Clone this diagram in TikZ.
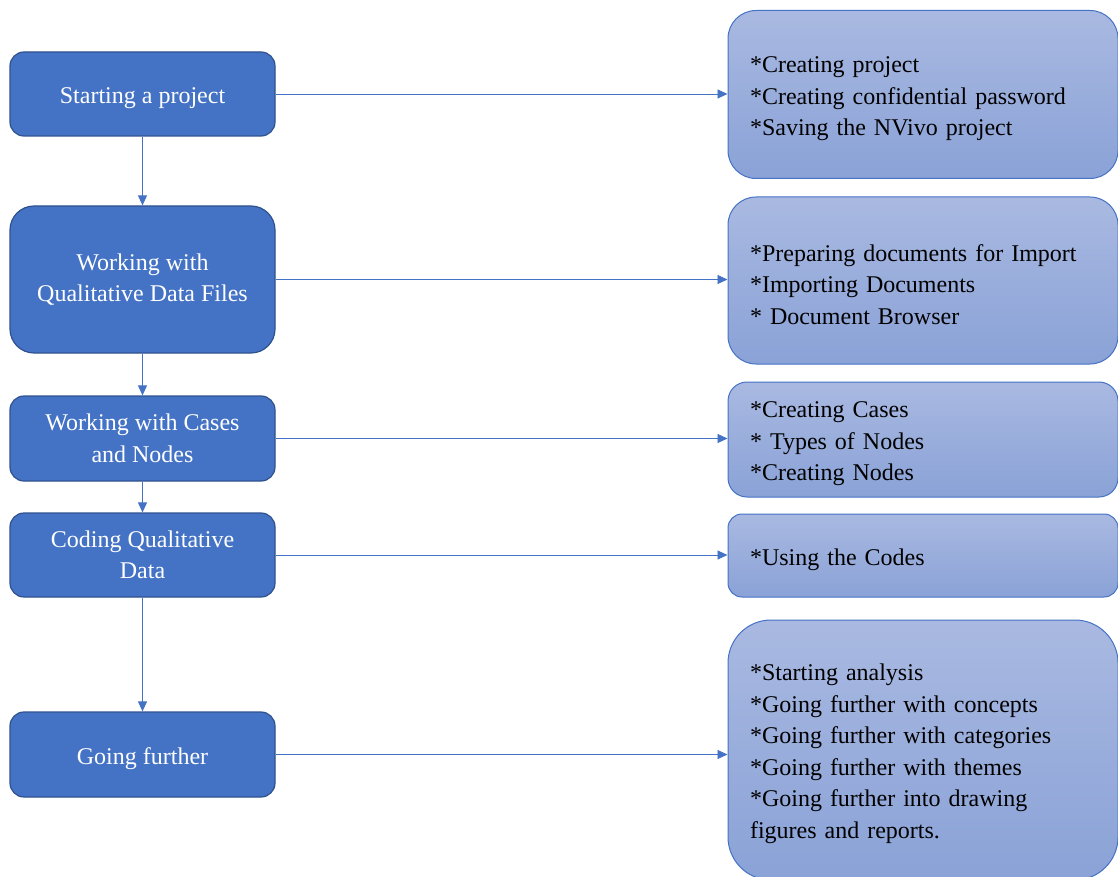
\documentclass[tikz,border=0pt]{standalone}
\usepackage{fontspec}
\setmainfont{Liberation Serif}
\usetikzlibrary{arrows.meta}
\definecolor{stepblue}{HTML}{4472C4}
\definecolor{stepedge}{HTML}{2F528F}
\definecolor{notetop}{HTML}{A9B9E1}
\definecolor{notebot}{HTML}{8AA2D7}
\begin{document}
\begin{tikzpicture}[x=1pt,y=-1pt,
  boxfont/.style={font=\fontsize{24}{31.5}\selectfont,
    execute at begin node={\rule{0pt}{24.5pt}}},
  stepbox/.style={draw=stepedge, line width=1.2pt, fill=stepblue, text=white,
    align=center, minimum width=265pt, inner sep=0pt, boxfont},
  notebox/.style={draw=stepblue, line width=1pt, top color=notetop,
    bottom color=notebot, text=black, align=left, text width=346pt,
    inner xsep=22pt, inner ysep=0pt, boxfont},
  flow/.style={draw=stepblue, line width=0.9pt,
    -{Triangle[length=10pt,width=9pt]}}]
\clip (0,0) rectangle (1118,877);

% main steps
\node[stepbox, minimum height=84pt, rounded corners=14pt] (l1) at (142.5,94)
  {Starting a project};
\node[stepbox, minimum height=147pt, rounded corners=24pt] (l2) at (142.5,279.5)
  {Working with\\Qualitative Data Files};
\node[stepbox, minimum height=85pt, rounded corners=14pt] (l3) at (142.5,438.5)
  {Working with Cases\\and Nodes};
\node[stepbox, minimum height=84pt, rounded corners=14pt] (l4) at (142.5,555)
  {Coding Qualitative\\Data};
\node[stepbox, minimum height=85pt, rounded corners=14pt] (l5) at (142.5,754.5)
  {Going further};

% details for each step
\node[notebox, minimum height=168pt, rounded corners=28pt] (r1) at (923,94.5)
  {*Creating project\\{}*Creating confidential password\\{}*Saving the NVivo project};
\node[notebox, minimum height=167pt, rounded corners=28pt] (r2) at (923,280.5)
  {*Preparing documents for Import\\{}*Importing Documents\\{}* Document Browser};
\node[notebox, minimum height=115pt, rounded corners=19pt] (r3) at (923,439.5)
  {*Creating Cases\\{}* Types of Nodes\\{}*Creating Nodes};
\node[notebox, minimum height=83pt, rounded corners=14pt] (r4) at (923,555.5)
  {*Using the Codes};
\node[notebox, minimum height=260pt, rounded corners=43pt] (r5) at (923,750)
  {*Starting analysis\\{}*Going further with concepts\\{}*Going further with categories\\{}*Going further with themes\\{}*Going further into drawing\\figures and reports.};

% connectors
\draw[flow] (l1) -- (l2);
\draw[flow] (l2) -- (l3);
\draw[flow] (l3) -- (l4);
\draw[flow] (l4) -- (l5);
\draw[flow] (l1.east) -- (l1.east -| r1.west);
\draw[flow] (l2.east) -- (l2.east -| r2.west);
\draw[flow] (l3.east) -- (l3.east -| r3.west);
\draw[flow] (l4.east) -- (l4.east -| r4.west);
\draw[flow] (l5.east) -- (l5.east -| r5.west);
\end{tikzpicture}
\end{document}
